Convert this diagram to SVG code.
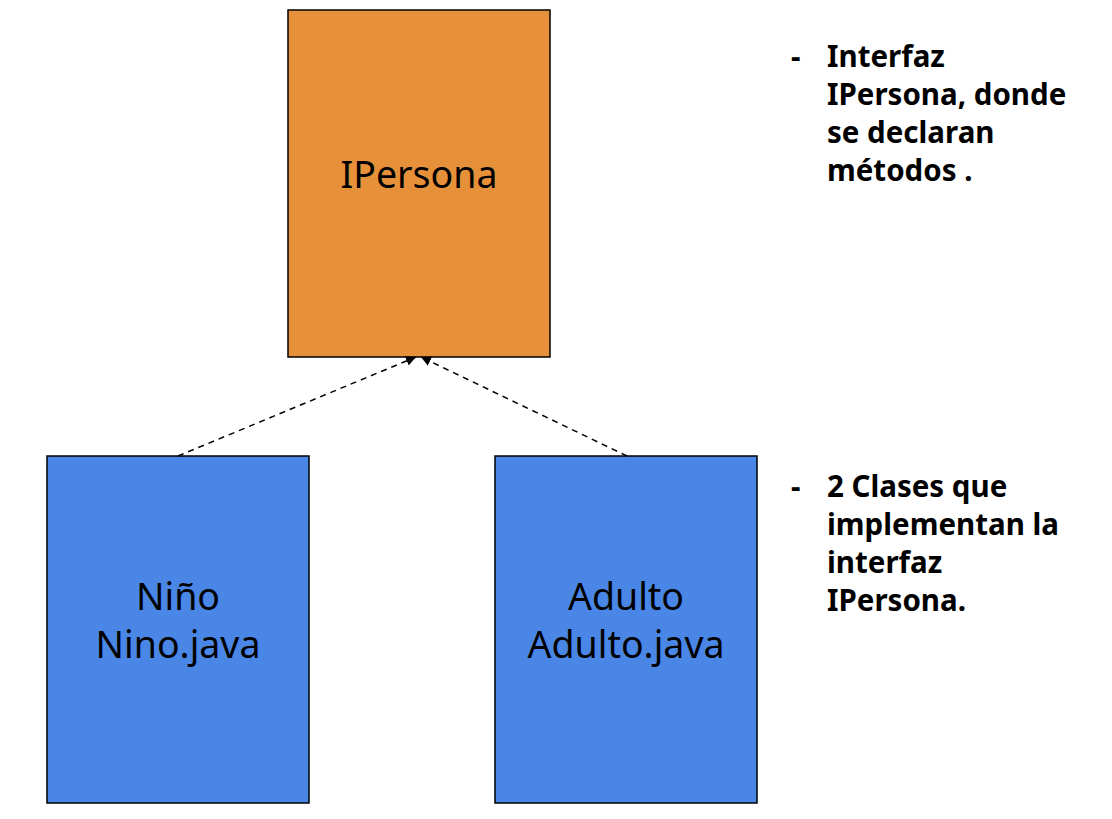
<svg xmlns="http://www.w3.org/2000/svg" width="1112" height="819" viewBox="0 0 1112 819">
<style>
.box{stroke:#000;stroke-width:1.5}
.lbl{font-family:"Noto Sans","Open Sans",sans-serif;font-size:37.5px;fill:#000;text-anchor:middle}
.note{font-family:"Noto Sans","Open Sans",sans-serif;font-size:29.5px;font-weight:bold;fill:#000}
.conn{stroke:#000;stroke-width:1.5;stroke-dasharray:6,5;fill:none}
</style>
<defs>
<marker id="ah" viewBox="0 0 10 10" refX="10" refY="5" markerWidth="10" markerHeight="10" markerUnits="userSpaceOnUse" orient="auto">
<path d="M0,0 L10,5 L0,10 z" fill="#000"/>
</marker>
</defs>
<rect width="1112" height="819" fill="#fff"/>
<g id="ipersona">
<rect class="box" x="288" y="10" width="262" height="347" fill="#e6913a"/>
<text class="lbl" x="419" y="188">IPersona</text>
</g>
<g id="nino">
<rect class="box" x="47" y="456" width="262" height="347" fill="#4a86e6"/>
<text class="lbl" x="178" y="610">Niño</text>
<text class="lbl" x="178" y="658">Nino.java</text>
</g>
<g id="adulto">
<rect class="box" x="495" y="456" width="262" height="347" fill="#4a86e6"/>
<text class="lbl" x="626" y="610">Adulto</text>
<text class="lbl" x="626" y="658">Adulto.java</text>
</g>
<g id="connectors">
<line class="conn" x1="178" y1="456" x2="416" y2="357" marker-end="url(#ah)"/>
<line class="conn" x1="627" y1="456" x2="421" y2="357" marker-end="url(#ah)"/>
</g>
<g id="note1">
<text class="note" x="791" y="67">-</text>
<text class="note"><tspan x="827" y="67">Interfaz</tspan><tspan x="827" y="105">IPersona, donde</tspan><tspan x="827" y="143">se declaran</tspan><tspan x="827" y="181">métodos .</tspan></text>
</g>
<g id="note2">
<text class="note" x="791" y="497">-</text>
<text class="note"><tspan x="827" y="497">2 Clases que</tspan><tspan x="827" y="535">implementan la</tspan><tspan x="827" y="573">interfaz</tspan><tspan x="827" y="611">IPersona.</tspan></text>
</g>
</svg>
